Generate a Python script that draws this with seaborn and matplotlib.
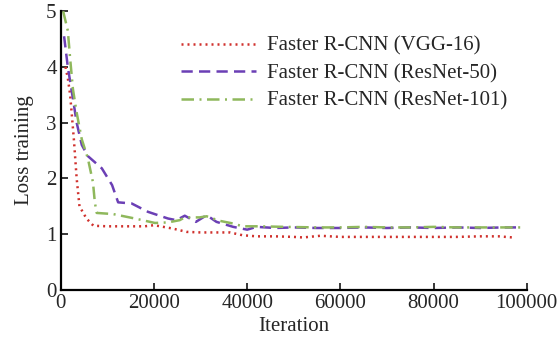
import seaborn as sns
import matplotlib.pyplot as plt
import pandas as pd

# values
vgg_iter = [1000, 1500, 2000, 2800, 3400, 4000, 5500, 7000, 10000, 14000, 18000, 20000,
            22000, 24000, 27000, 30000, 33000, 36300, 39000, 42000, 46000, 50000, 52000,
            55700, 60000, 65000, 70000, 75000, 80000, 85000, 90000, 94000, 97000]
vgg_loss = [4.0, 3.8, 3.5, 2.7, 2.0, 1.5, 1.28, 1.15, 1.14, 1.14, 1.14, 1.16,
            1.13, 1.1, 1.04, 1.03, 1.03, 1.03, 0.98, 0.96, 0.96, 0.95, 0.94,
            0.97, 0.95, 0.95, 0.95, 0.95, 0.95, 0.95, 0.96, 0.96, 0.94]

r50_iter = [700, 1500, 2600, 3400, 4500, 5800, 8800, 11000, 12300, 15200, 18700, 23000,
            24800, 26600, 29000, 31300, 33400, 37000, 40000, 42000, 46000, 50000, 55000,
            60000, 65000, 70000, 75000, 80000, 85000, 90000, 95000, 99000]
r50_loss = [4.55, 4.0, 3.43, 3.0, 2.6, 2.4, 2.18, 1.88, 1.57, 1.55, 1.4, 1.28,
            1.25, 1.33, 1.22, 1.34, 1.22, 1.13, 1.08, 1.13, 1.11, 1.12, 1.11,
            1.11, 1.12, 1.11, 1.12, 1.11, 1.12, 1.11, 1.12, 1.12]

r101_iter = [500, 1500, 2000, 2600, 3400, 4500, 5800, 6900, 7300, 7700, 11200, 15900,
             20200, 23000, 25500, 26600, 29800, 31300, 34000, 37000, 39000, 42700, 48000,
             55000, 60000, 65000, 70000, 75000, 80000, 85000, 90000, 95000, 99000]
r101_loss = [5.0, 4.65, 4.15, 3.6, 3.18, 2.7, 2.36, 1.93, 1.57, 1.38, 1.36, 1.28,
             1.2, 1.21, 1.25, 1.3, 1.3, 1.32, 1.24, 1.19, 1.14, 1.14, 1.13,
             1.12, 1.12, 1.13, 1.12, 1.12, 1.13, 1.12, 1.12, 1.12, 1.12]

labels = ['Faster R-CNN (VGG-16)', 'Faster R-CNN (ResNet-50)', 'Faster R-CNN (ResNet-101)']
x_ticks = [0, 20000, 40000, 60000, 80000, 100000]
y_ticks = [0, 1, 2, 3, 4, 5]

df = pd.concat([
    pd.DataFrame({'Iteration': vgg_iter, 'Loss': vgg_loss, 'model': labels[0]}),
    pd.DataFrame({'Iteration': r50_iter, 'Loss': r50_loss, 'model': labels[1]}),
    pd.DataFrame({'Iteration': r101_iter, 'Loss': r101_loss, 'model': labels[2]}),
])

sns.set_style('white')
plt.rcParams['font.family'] = ['Liberation Serif', 'DejaVu Serif']

fig = plt.figure(figsize=(5.58, 3.39), dpi=100)
ax = fig.add_axes([0.109, 0.145, 0.835, 0.822])

palette = {labels[0]: '#d0312d', labels[1]: '#6b3fb5', labels[2]: '#8fb85c'}
dashes = {labels[0]: (0.8, 1.6), labels[1]: (4.5, 2.5), labels[2]: (5, 2.2, 0.8, 2.2)}
sns.lineplot(data=df, x='Iteration', y='Loss', hue='model', style='model',
             palette=palette, dashes=dashes, linewidth=1.8, sort=False, ax=ax)

ax.set_xlim(0, 100000)
ax.set_ylim(0, 5)
ax.set_xticks(x_ticks)
ax.set_yticks(y_ticks)
ax.set_xticklabels([str(t) for t in x_ticks])
ax.set_xlabel('Iteration', fontsize=15, labelpad=3)
ax.set_ylabel('Loss training', fontsize=15, labelpad=9)
ax.tick_params(direction='in', length=5, width=1.3, labelsize=15, pad=3,
               left=True, bottom=True)
for s in ['top', 'right']:
    ax.spines[s].set_visible(False)
for s in ['left', 'bottom']:
    ax.spines[s].set_linewidth(1.6)
    ax.spines[s].set_color('black')

leg = ax.legend(loc='upper right', bbox_to_anchor=(0.975, 0.94), frameon=False,
                fontsize=15, handlelength=3.6, handletextpad=0.5, labelspacing=0.38,
                borderaxespad=0)

fig.savefig('out.png', dpi=100)
